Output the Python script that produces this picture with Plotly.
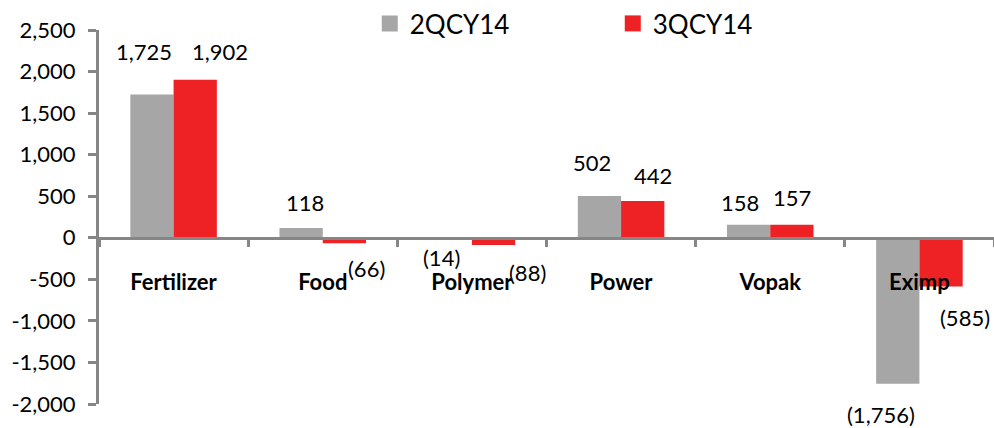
import plotly.graph_objects as go

categories = ["Fertilizer", "Food", "Polymer", "Power", "Vopak", "Eximp"]
series_names = ["2QCY14", "3QCY14"]
q2_values = [1725, 118, -14, 502, 158, -1756]
q3_values = [1902, -66, -88, 442, 157, -585]
y_tick_values = [2500, 2000, 1500, 1000, 500, 0, -500, -1000, -1500, -2000]

# style constants (label offsets in pixels, relative to bar end / category centre)
GRAY = "#A6A6A6"
RED = "#EE2124"
AXIS = "#868686"
FONT = "Lato"
Q2_DX = [-30, -18, -30, -29, -30, -38]
Q2_DY = [43, 25, -19, 34, 22, -31]
Q3_DX = [46, 44, 56, 32, 22, 46]
Q3_DY = [28, -25, -27, 26, 27, -31]


def fmt(v):
    s = f"{abs(v):,}"
    return f"({s})" if v < 0 else s


def tick_fmt(v):
    return f"{v:,}"


fig = go.Figure()
for name, vals, col in ((series_names[0], q2_values, GRAY), (series_names[1], q3_values, RED)):
    fig.add_trace(go.Bar(x=categories, y=vals, name=name, showlegend=False,
                         marker=dict(color=col, line=dict(width=0))))
    # legend-only entry with a larger square swatch
    fig.add_trace(go.Scatter(x=[None], y=[None], mode="markers", name=name,
                             marker=dict(symbol="square", size=17, color=col)))

ymin, ymax = -2000, 2500
annotations = []
for vals, dxs, dys in ((q2_values, Q2_DX, Q2_DY), (q3_values, Q3_DX, Q3_DY)):
    for cat, v, dx, dy in zip(categories, vals, dxs, dys):
        annotations.append(dict(x=cat, y=v, xref="x", yref="y", text=fmt(v),
                                showarrow=False, xshift=dx, yshift=dy,
                                font=dict(family=FONT, size=22, color="black")))

fig.update_layout(
    width=994, height=428,
    margin=dict(l=99, r=0, t=30, b=24, autoexpand=False),
    paper_bgcolor="white", plot_bgcolor="white",
    barmode="group", bargap=0.42, bargroupgap=0,
    font=dict(family=FONT, color="black"),
    showlegend=True,
    legend=dict(orientation="h", xref="container", yref="container",
                x=0.372, y=1.0, xanchor="left", yanchor="top",
                entrywidth=198, entrywidthmode="pixels",
                font=dict(family=FONT, size=26, color="black"),
                bgcolor="rgba(0,0,0,0)", itemwidth=30),
    annotations=annotations,
    xaxis=dict(anchor="free", position=(0 - ymin) / (ymax - ymin),
               showline=True, linecolor=AXIS, linewidth=3,
               ticks="outside", tickson="boundaries", ticklen=7,
               tickwidth=2.5, tickcolor=AXIS,
               ticklabelstandoff=24,
               tickfont=dict(family=FONT, size=22, color="black", weight="bold"),
               showgrid=False, zeroline=False),
    yaxis=dict(range=[ymin, ymax], tickvals=y_tick_values,
               ticktext=[tick_fmt(v) for v in y_tick_values],
               showline=True, linecolor=AXIS, linewidth=3,
               ticks="outside", ticklen=8, tickwidth=2.5, tickcolor=AXIS,
               ticklabelstandoff=8,
               tickfont=dict(family=FONT, size=22, color="black"),
               showgrid=False, zeroline=False),
)

fig.write_html("out.html")
